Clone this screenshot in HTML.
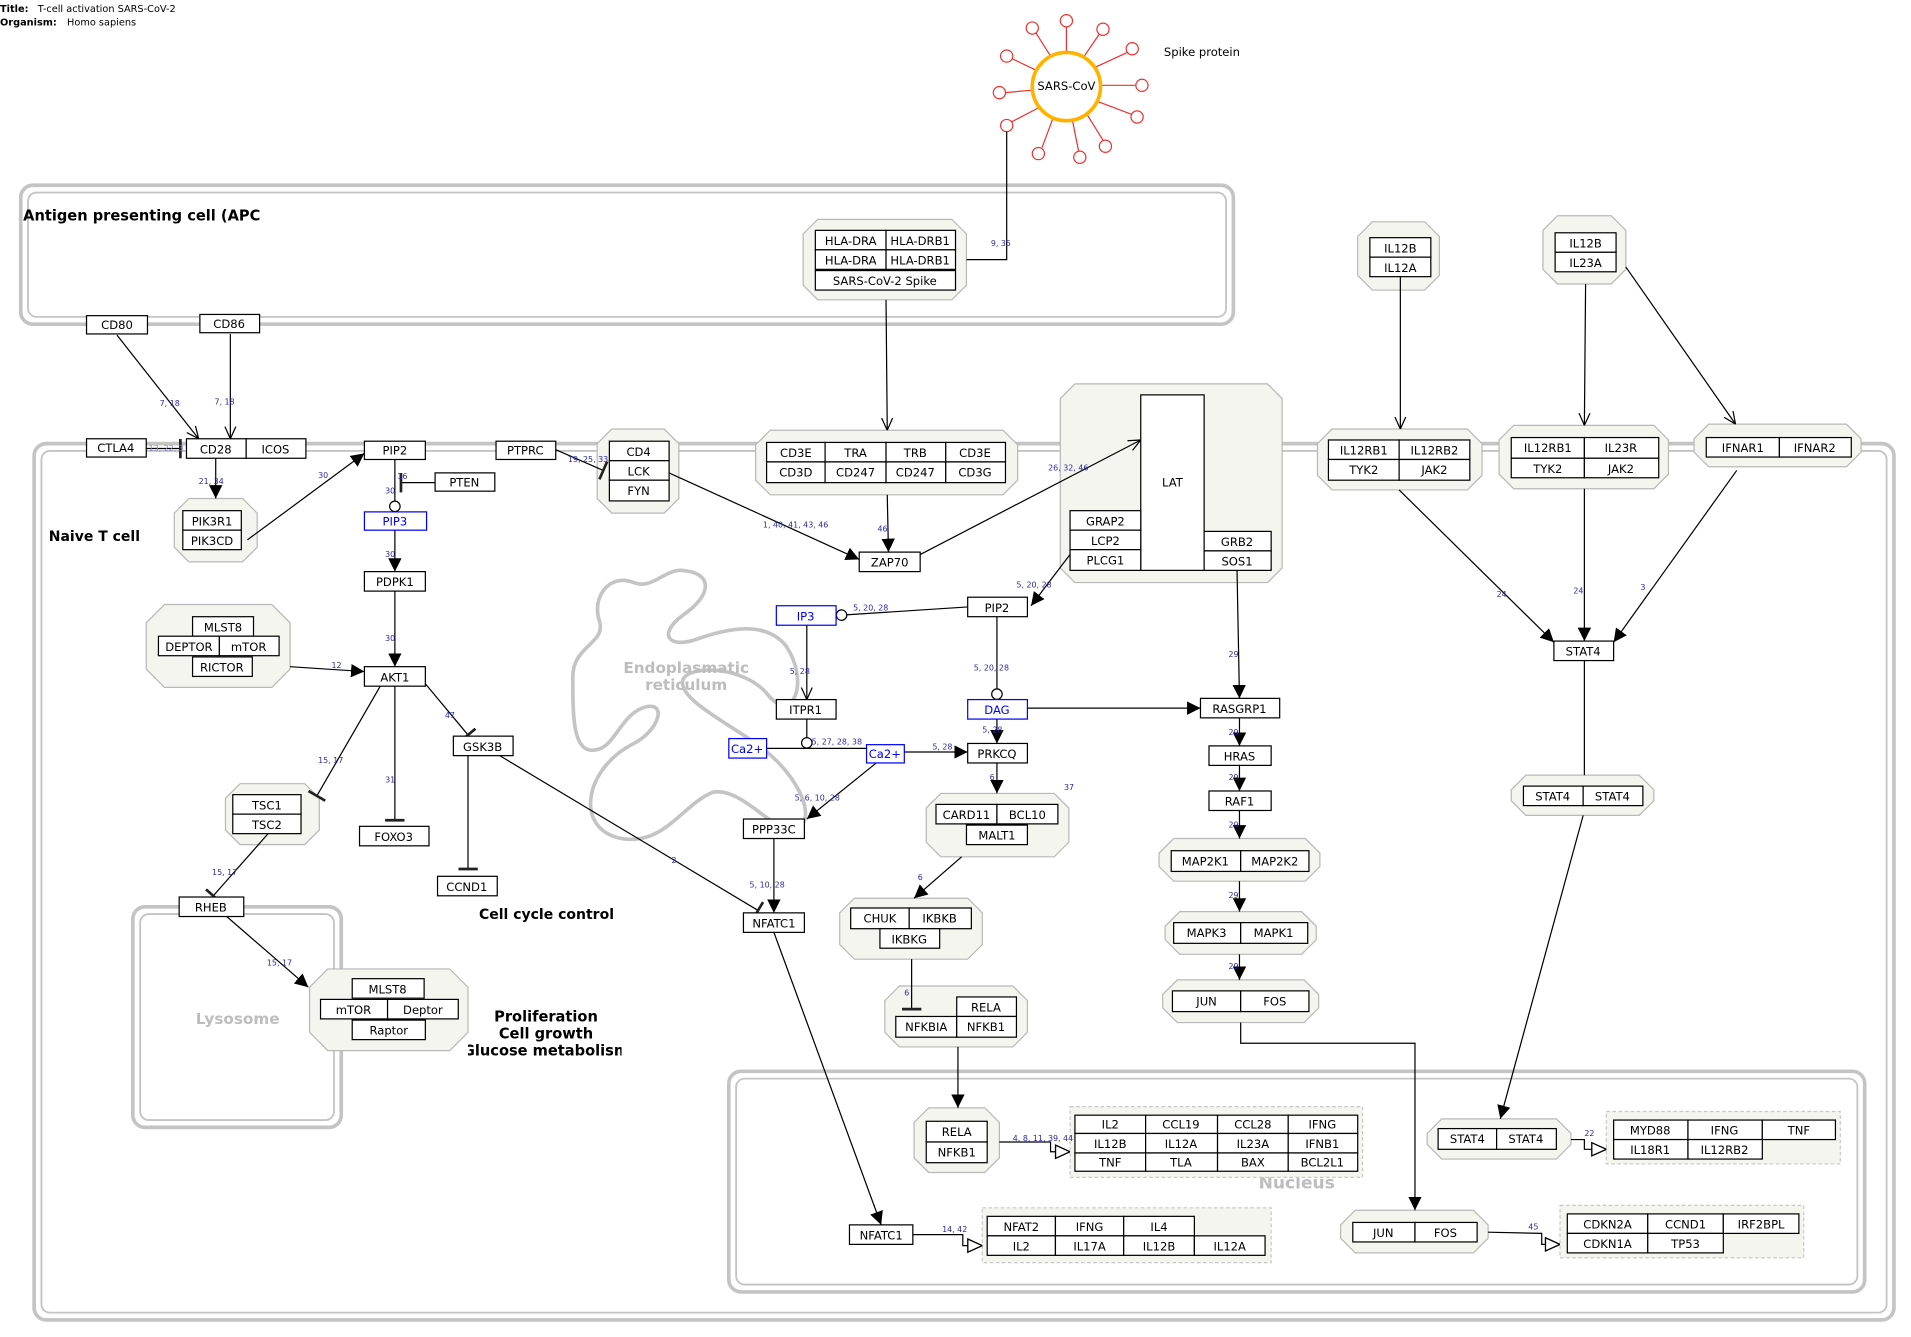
<!DOCTYPE html>
<html><head><meta charset="utf-8"><style>
html,body{margin:0;padding:0;background:#fff;}
svg{display:block;}
.n{fill:#fff;stroke:#000;stroke-width:1;}
.b{fill:#fff;stroke:#00f;stroke-width:1;}
.cx{fill:#f5f5ef;stroke:#b8b8b8;stroke-width:1;}
.cmp{fill:none;stroke:#c4c4c4;stroke-width:3;}
.cmpi{fill:none;stroke:#c4c4c4;stroke-width:1.5;}
text{font-family:"DejaVu Sans","Liberation Sans",sans-serif;}
.t{font-size:9.5px;text-anchor:middle;fill:#000;}
.tb{font-size:9.5px;text-anchor:middle;fill:#00f;}
.l{font-size:6.5px;fill:#2a2aa8;}
.e{stroke:#000;stroke-width:1;fill:none;}
.h{font-size:12px;font-weight:bold;fill:#000;}
.g{font-size:12.5px;font-weight:bold;fill:#bdbdbd;text-anchor:middle;}
.grp{fill:#f5f5ef;stroke:#c8c8c8;stroke-dasharray:3,2;}
</style></head><body>
<svg width="1911" height="1337" viewBox="0 0 1568 1097" preserveAspectRatio="none" xmlns="http://www.w3.org/2000/svg">
<defs>
<marker id="af" viewBox="0 0 10 10" refX="10" refY="5" markerWidth="11" markerHeight="11" markerUnits="userSpaceOnUse" orient="auto"><path d="M0,0 L10,5 L0,10 z" fill="#000"/></marker>
<marker id="ao" viewBox="0 0 10 10" refX="10" refY="5" markerWidth="10" markerHeight="10" markerUnits="userSpaceOnUse" orient="auto"><path d="M0,0.5 L10,5 L0,9.5" fill="none" stroke="#000" stroke-width="1"/></marker>
<marker id="tb" viewBox="0 0 4 16" refX="2" refY="8" markerWidth="4" markerHeight="16" markerUnits="userSpaceOnUse" orient="auto"><line x1="2" y1="0" x2="2" y2="16" stroke="#222" stroke-width="2.2"/></marker>
<marker id="ci" viewBox="0 0 10 10" refX="9.5" refY="5" markerWidth="10" markerHeight="10" markerUnits="userSpaceOnUse" orient="auto"><circle cx="5" cy="5" r="4.3" fill="#fff" stroke="#000" stroke-width="1"/></marker>
<marker id="tr" viewBox="0 0 12 12" refX="12" refY="6" markerWidth="13" markerHeight="13" markerUnits="userSpaceOnUse" orient="auto"><path d="M1,1 L12,6 L1,11 z" fill="#fff" stroke="#000" stroke-width="1"/></marker>
<clipPath id="clp"><rect x="384" y="820" width="126" height="60"/></clipPath>
</defs>

<text x="0" y="10" style="font-size:8px;font-weight:bold">Title:</text><text x="31" y="10" style="font-size:8px">T-cell activation SARS-CoV-2</text>
<text x="0" y="21" style="font-size:8px;font-weight:bold">Organism:</text><text x="55" y="21" style="font-size:8px">Homo sapiens</text>

<rect class="cmp" x="17" y="152" width="995" height="114" rx="10"/>
<rect class="cmpi" x="23" y="158" width="983" height="102" rx="7"/>
<rect class="cmp" x="28" y="364" width="1526" height="719" rx="10"/>
<rect class="cmpi" x="34" y="370" width="1514" height="707" rx="7"/>
<rect class="cmp" x="109" y="744" width="171" height="181" rx="10"/>
<rect class="cmpi" x="115" y="750" width="159" height="169" rx="7"/>
<rect class="cmp" x="598" y="879" width="932" height="181" rx="10"/>
<rect class="cmpi" x="604" y="885" width="920" height="169" rx="7"/>

<text class="h" x="19" y="181">Antigen presenting cell (APC</text>
<text class="h" x="40" y="444" style="font-size:11.5px">Naive T cell</text>
<text class="g" x="195" y="840">Lysosome</text>
<text class="g" x="1064" y="975" style="font-size:14px">Nucleus</text>
<text class="h" x="393" y="754" style="font-size:11.5px">Cell cycle control</text>
<g clip-path="url(#clp)">
<text class="h" x="448" y="838" text-anchor="middle" style="font-size:12px">Proliferation</text>
<text class="h" x="448" y="852" text-anchor="middle" style="font-size:12px">Cell growth</text>
<text class="h" x="448" y="866" text-anchor="middle" style="font-size:12px">Glucose metabolism</text>
</g>

<path d="M520,478 C500,470 485,490 492,510 C497,528 470,530 470,555 C470,590 470,620 490,615 C505,612 510,585 530,580 C548,576 540,600 520,610 C480,630 470,680 510,688 C545,694 560,660 585,650 C610,645 640,690 655,680 C672,668 650,630 620,610 C595,592 560,575 560,560 C560,545 610,545 630,570 C650,595 665,560 645,530 C625,505 585,520 570,525 C548,532 540,520 560,505 C585,488 585,470 560,468 C545,467 535,484 520,478 Z" fill="none" stroke="#c4c4c4" stroke-width="3"/>
<text class="g" x="563" y="552">Endoplasmatic</text>
<text class="g" x="563" y="566">reticulum</text>

<g stroke="#f03030" stroke-width="1" fill="#fff">
<line x1="875" y1="43" x2="875" y2="22"/><line x1="889" y1="47" x2="902" y2="28"/><line x1="899" y1="55" x2="925" y2="43"/>
<line x1="903" y1="70" x2="932" y2="70"/><line x1="900" y1="83" x2="929" y2="94"/><line x1="892" y1="94" x2="905" y2="115"/>
<line x1="880" y1="99" x2="885" y2="124"/><line x1="864" y1="97" x2="855" y2="121"/><line x1="853" y1="88" x2="830" y2="100"/>
<line x1="847" y1="74" x2="825" y2="76"/><line x1="851" y1="58" x2="830" y2="48"/><line x1="862" y1="46" x2="850" y2="27"/>
<circle cx="875" cy="17" r="5"/><circle cx="905" cy="24" r="5"/><circle cx="929" cy="40" r="5"/><circle cx="937" cy="70" r="5"/>
<circle cx="933" cy="96" r="5"/><circle cx="907" cy="120" r="5"/><circle cx="886" cy="129" r="5"/><circle cx="852" cy="126" r="5"/>
<circle cx="826" cy="103" r="5"/><circle cx="820" cy="76" r="5"/><circle cx="826" cy="46" r="5"/><circle cx="847" cy="23" r="5"/>
</g>
<circle cx="875" cy="71" r="28" fill="#fff" stroke="#ffb300" stroke-width="3"/>
<text class="t" x="875" y="74">SARS-CoV</text>
<text x="955" y="46" style="font-size:9.5px">Spike protein</text>

<polygon class="cx" points="155,409 199,409 211,421 211,449 199,461 155,461 143,449 143,421"/>
<polygon class="cx" points="135,496 223,496 238,511 238,549 223,564 135,564 120,549 120,511"/>
<polygon class="cx" points="197,643 250,643 262,655 262,681 250,693 197,693 185,681 185,655"/>
<polygon class="cx" points="269,795 369,795 384,810 384,847 369,862 269,862 254,847 254,810"/>
<polygon class="cx" points="502,352 545,352 557,364 557,409 545,421 502,421 490,409 490,364"/>
<polygon class="cx" points="671,180 781,180 793,192 793,234 781,246 671,246 659,234 659,192"/>
<polygon class="cx" points="632,353 823,353 835,365 835,394 823,406 632,406 620,394 620,365"/>
<polygon class="cx" points="882,315 1040,315 1052,327 1052,466 1040,478 882,478 870,466 870,327"/>
<polygon class="cx" points="772,651 865,651 877,663 877,691 865,703 772,703 760,691 760,663"/>
<polygon class="cx" points="701,737 794,737 806,749 806,775 794,787 701,787 689,775 689,749"/>
<polygon class="cx" points="738,809 831,809 843,821 843,847 831,859 738,859 726,847 726,821"/>
<polygon class="cx" points="963,688 1071,688 1083,700 1083,711 1071,723 963,723 951,711 951,700"/>
<polygon class="cx" points="968,748 1068,748 1080,760 1080,771 1068,783 968,783 956,771 956,760"/>
<polygon class="cx" points="966,804 1070,804 1082,816 1082,827 1070,839 966,839 954,827 954,816"/>
<polygon class="cx" points="1126,182 1169,182 1181,194 1181,226 1169,238 1126,238 1114,226 1114,194"/>
<polygon class="cx" points="1278,177 1322,177 1334,189 1334,221 1322,233 1278,233 1266,221 1266,189"/>
<polygon class="cx" points="1093,352 1204,352 1216,364 1216,390 1204,402 1093,402 1081,390 1081,364"/>
<polygon class="cx" points="1242,349 1357,349 1369,361 1369,389 1357,401 1242,401 1230,389 1230,361"/>
<polygon class="cx" points="1402,348 1515,348 1527,360 1527,371 1515,383 1402,383 1390,371 1390,360"/>
<polygon class="cx" points="1252,636 1345,636 1357,648 1357,657 1345,669 1252,669 1240,657 1240,648"/>
<polygon class="cx" points="762,909 808,909 820,921 820,950 808,962 762,962 750,950 750,921"/>
<polygon class="cx" points="1183,918 1277,918 1289,930 1289,939 1277,951 1183,951 1171,939 1171,930"/>
<polygon class="cx" points="1112,993 1209,993 1221,1005 1221,1016 1209,1028 1112,1028 1100,1016 1100,1005"/>

<rect class="grp" x="878" y="908" width="240" height="58"/>
<rect class="grp" x="806" y="991" width="237" height="45"/>
<rect class="grp" x="1318" y="912" width="192" height="43"/>
<rect class="grp" x="1280" y="989" width="200" height="43"/>

<g class="e">
<line x1="96" y1="275" x2="163" y2="360" marker-end="url(#ao)"/>
<line x1="189" y1="274" x2="189" y2="360" marker-end="url(#ao)"/>
<line x1="120" y1="368" x2="148" y2="368" marker-end="url(#tb)"/>
<line x1="177" y1="376" x2="177" y2="409" marker-end="url(#af)"/>
<line x1="203" y1="443" x2="299" y2="372" marker-end="url(#af)"/>
<line x1="324" y1="377" x2="324" y2="420" marker-end="url(#ci)"/>
<line x1="357" y1="396" x2="329" y2="396" marker-end="url(#tb)"/>
<line x1="324" y1="435" x2="324" y2="469" marker-end="url(#af)"/>
<line x1="324" y1="485" x2="324" y2="547" marker-end="url(#af)"/>
<line x1="238" y1="547" x2="299" y2="551" marker-end="url(#af)"/>
<line x1="312" y1="563" x2="260" y2="653" marker-end="url(#tb)"/>
<line x1="324" y1="563" x2="324" y2="673" marker-end="url(#tb)"/>
<line x1="349" y1="561" x2="384" y2="603" marker-end="url(#tb)"/>
<line x1="384" y1="620" x2="384" y2="713" marker-end="url(#tb)"/>
<line x1="410" y1="620" x2="622" y2="747" marker-end="url(#tb)"/>
<line x1="220" y1="684" x2="175" y2="735" marker-end="url(#tb)"/>
<line x1="186" y1="752" x2="253" y2="810" marker-end="url(#af)"/>
<line x1="456" y1="369" x2="495" y2="386" marker-end="url(#tb)"/>
<line x1="549" y1="388" x2="705" y2="459" marker-end="url(#af)"/>
<line x1="728" y1="406" x2="729" y2="453" marker-end="url(#af)"/>
<line x1="727" y1="246" x2="728" y2="353" marker-end="url(#ao)"/>
<path d="M826,108 L826,213 L793,213"/>
<line x1="755" y1="455" x2="936" y2="361" marker-end="url(#ao)"/>
<line x1="878" y1="455" x2="846" y2="497" marker-end="url(#af)"/>
<line x1="794" y1="498" x2="686" y2="505" marker-end="url(#ci)"/>
<line x1="818" y1="506" x2="818" y2="574" marker-end="url(#ci)"/>
<line x1="662" y1="513" x2="662" y2="574" marker-end="url(#ao)"/>
<line x1="662" y1="590" x2="662" y2="614" marker-end="url(#ci)"/>
<line x1="629" y1="614" x2="711" y2="614"/>
<line x1="742" y1="617" x2="794" y2="617" marker-end="url(#af)"/>
<line x1="818" y1="590" x2="818" y2="610" marker-end="url(#af)"/>
<line x1="843" y1="581" x2="985" y2="581" marker-end="url(#af)"/>
<line x1="719" y1="626" x2="662" y2="672" marker-end="url(#af)"/>
<line x1="635" y1="688" x2="635" y2="749" marker-end="url(#af)"/>
<line x1="818" y1="626" x2="818" y2="651" marker-end="url(#af)"/>
<line x1="789" y1="703" x2="750" y2="737" marker-end="url(#af)"/>
<line x1="748" y1="787" x2="748" y2="828" marker-end="url(#tb)"/>
<line x1="786" y1="859" x2="786" y2="909" marker-end="url(#af)"/>
<line x1="635" y1="765" x2="723" y2="1005" marker-end="url(#af)"/>
<line x1="1015" y1="468" x2="1017" y2="573" marker-end="url(#af)"/>
<line x1="1017" y1="589" x2="1017" y2="612" marker-end="url(#af)"/>
<line x1="1017" y1="628" x2="1017" y2="649" marker-end="url(#af)"/>
<line x1="1017" y1="665" x2="1017" y2="688" marker-end="url(#af)"/>
<line x1="1017" y1="723" x2="1017" y2="748" marker-end="url(#af)"/>
<line x1="1017" y1="783" x2="1017" y2="804" marker-end="url(#af)"/>
<path d="M1018,839 L1018,856 L1161,856 L1161,993" marker-end="url(#af)"/>
<line x1="1149" y1="227" x2="1149" y2="352" marker-end="url(#ao)"/>
<line x1="1301" y1="233" x2="1300" y2="349" marker-end="url(#ao)"/>
<line x1="1334" y1="219" x2="1424" y2="348" marker-end="url(#ao)"/>
<line x1="1148" y1="402" x2="1275" y2="527" marker-end="url(#af)"/>
<line x1="1300" y1="401" x2="1300" y2="526" marker-end="url(#af)"/>
<line x1="1425" y1="386" x2="1324" y2="527" marker-end="url(#af)"/>
<line x1="1300" y1="542" x2="1300" y2="636"/>
<line x1="1299" y1="669" x2="1231" y2="918" marker-end="url(#af)"/>
<path d="M820,937 L862,937 L862,945 L878,945" marker-end="url(#tr)"/>
<path d="M749,1013 L790,1013 L790,1022 L806,1022" marker-end="url(#tr)"/>
<path d="M1289,935 L1300,935 L1300,943 L1318,943" marker-end="url(#tr)"/>
<path d="M1221,1011 L1265,1012 L1265,1021 L1280,1021" marker-end="url(#tr)"/>
</g>

<g class="l">
<text x="131" y="333">7, 18</text><text x="176" y="332">7, 18</text>
<text x="122" y="370" fill="#8888c8">13, 22, 3</text>
<text x="163" y="397">21, 34</text><text x="261" y="392">30</text>
<text x="326" y="393">16</text><text x="316" y="405">30</text><text x="316" y="457">30</text>
<text x="316" y="526">30</text><text x="272" y="548">12</text><text x="261" y="626">15, 17</text>
<text x="316" y="642">31</text><text x="365" y="589">47</text><text x="551" y="708">2</text>
<text x="174" y="718">15, 17</text><text x="219" y="792">15, 17</text>
<text x="466" y="379">19, 25, 33</text><text x="626" y="433">1, 40, 41, 43, 46</text>
<text x="720" y="436">46</text><text x="813" y="202">9, 35</text><text x="860" y="386">26, 32, 46</text>
<text x="834" y="482">5, 20, 28</text><text x="700" y="501">5, 20, 28</text><text x="799" y="550">5, 20, 28</text>
<text x="648" y="553">5, 28</text><text x="666" y="611">5, 27, 28, 38</text><text x="765" y="615">5, 28</text>
<text x="806" y="601">5, 28</text><text x="652" y="657">5, 6, 10, 28</text><text x="615" y="728">5, 10, 28</text>
<text x="812" y="640">6</text><text x="873" y="648">37</text><text x="753" y="722">6</text><text x="742" y="817">6</text>
<text x="1008" y="539">29</text><text x="1008" y="603">29</text><text x="1008" y="640">29</text><text x="1008" y="679">29</text>
<text x="1008" y="737">29</text><text x="1008" y="795">29</text>
<text x="1228" y="490">24</text><text x="1291" y="487">24</text><text x="1346" y="484">3</text>
<text x="831" y="936">4, 8, 11, 39, 44</text><text x="773" y="1011">14, 42</text><text x="1300" y="932">22</text><text x="1254" y="1009">45</text>
</g>

<g>
<rect class="n" x="71" y="259" width="50" height="15"/><text class="t" x="96" y="270">CD80</text>
<rect class="n" x="164" y="258" width="49" height="15"/><text class="t" x="188" y="269">CD86</text>
<rect class="n" x="71" y="360" width="49" height="15"/><text class="t" x="95" y="371">CTLA4</text>
<rect class="n" x="153" y="360" width="49" height="16"/><text class="t" x="177" y="372">CD28</text>
<rect class="n" x="202" y="360" width="49" height="16"/><text class="t" x="226" y="372">ICOS</text>
<rect class="n" x="299" y="362" width="50" height="15"/><text class="t" x="324" y="373">PIP2</text>
<rect class="n" x="407" y="362" width="49" height="15"/><text class="t" x="431" y="373">PTPRC</text>
<rect class="n" x="357" y="388" width="49" height="15"/><text class="t" x="381" y="399">PTEN</text>
<rect class="b" x="299" y="420" width="51" height="15"/><text class="tb" x="324" y="431">PIP3</text>
<rect class="n" x="299" y="469" width="50" height="16"/><text class="t" x="324" y="481">PDPK1</text>
<rect class="n" x="299" y="547" width="50" height="16"/><text class="t" x="324" y="559">AKT1</text>
<rect class="n" x="150" y="419" width="48" height="16"/><text class="t" x="174" y="431">PIK3R1</text>
<rect class="n" x="150" y="435" width="48" height="16"/><text class="t" x="174" y="447">PIK3CD</text>
<rect class="n" x="158" y="506" width="50" height="16"/><text class="t" x="183" y="518">MLST8</text>
<rect class="n" x="130" y="522" width="50" height="16"/><text class="t" x="155" y="534">DEPTOR</text>
<rect class="n" x="180" y="522" width="49" height="16"/><text class="t" x="204" y="534">mTOR</text>
<rect class="n" x="158" y="539" width="49" height="16"/><text class="t" x="182" y="551">RICTOR</text>
<rect class="n" x="191" y="652" width="56" height="16"/><text class="t" x="219" y="664">TSC1</text>
<rect class="n" x="191" y="668" width="56" height="16"/><text class="t" x="219" y="680">TSC2</text>
<rect class="n" x="295" y="678" width="57" height="16"/><text class="t" x="323" y="690">FOXO3</text>
<rect class="n" x="372" y="604" width="49" height="16"/><text class="t" x="396" y="616">GSK3B</text>
<rect class="n" x="359" y="719" width="49" height="16"/><text class="t" x="383" y="731">CCND1</text>
<rect class="n" x="147" y="736" width="53" height="16"/><text class="t" x="173" y="748">RHEB</text>
<rect class="n" x="289" y="803" width="59" height="16"/><text class="t" x="318" y="815">MLST8</text>
<rect class="n" x="263" y="820" width="55" height="16"/><text class="t" x="290" y="832">mTOR</text>
<rect class="n" x="318" y="820" width="58" height="16"/><text class="t" x="347" y="832">Deptor</text>
<rect class="n" x="289" y="837" width="60" height="16"/><text class="t" x="319" y="849">Raptor</text>
<rect class="n" x="500" y="362" width="49" height="16"/><text class="t" x="524" y="374">CD4</text>
<rect class="n" x="500" y="378" width="49" height="16"/><text class="t" x="524" y="390">LCK</text>
<rect class="n" x="500" y="394" width="49" height="17"/><text class="t" x="524" y="406">FYN</text>
<rect class="n" x="669" y="189" width="58" height="16"/><text class="t" x="698" y="201">HLA-DRA</text>
<rect class="n" x="727" y="189" width="57" height="16"/><text class="t" x="755" y="201">HLA-DRB1</text>
<rect class="n" x="669" y="205" width="58" height="16"/><text class="t" x="698" y="217">HLA-DRA</text>
<rect class="n" x="727" y="205" width="57" height="16"/><text class="t" x="755" y="217">HLA-DRB1</text>
<rect class="n" x="669" y="222" width="115" height="16"/><text class="t" x="726" y="234">SARS-CoV-2 Spike</text>
<rect class="n" x="629" y="363" width="48" height="16"/><text class="t" x="653" y="375">CD3E</text>
<rect class="n" x="677" y="363" width="50" height="16"/><text class="t" x="702" y="375">TRA</text>
<rect class="n" x="727" y="363" width="49" height="16"/><text class="t" x="751" y="375">TRB</text>
<rect class="n" x="776" y="363" width="49" height="16"/><text class="t" x="800" y="375">CD3E</text>
<rect class="n" x="629" y="379" width="48" height="17"/><text class="t" x="653" y="391">CD3D</text>
<rect class="n" x="677" y="379" width="50" height="17"/><text class="t" x="702" y="391">CD247</text>
<rect class="n" x="727" y="379" width="49" height="17"/><text class="t" x="751" y="391">CD247</text>
<rect class="n" x="776" y="379" width="49" height="17"/><text class="t" x="800" y="391">CD3G</text>
<rect class="n" x="705" y="453" width="50" height="16"/><text class="t" x="730" y="465">ZAP70</text>
<rect class="n" x="936" y="324" width="52" height="144"/><text class="t" x="962" y="399">LAT</text>
<rect class="n" x="878" y="419" width="58" height="16"/><text class="t" x="907" y="431">GRAP2</text>
<rect class="n" x="878" y="435" width="58" height="16"/><text class="t" x="907" y="447">LCP2</text>
<rect class="n" x="878" y="451" width="58" height="17"/><text class="t" x="907" y="463">PLCG1</text>
<rect class="n" x="988" y="436" width="55" height="16"/><text class="t" x="1015" y="448">GRB2</text>
<rect class="n" x="988" y="452" width="55" height="16"/><text class="t" x="1015" y="464">SOS1</text>
<rect class="n" x="794" y="490" width="49" height="16"/><text class="t" x="818" y="502">PIP2</text>
<rect class="b" x="637" y="497" width="49" height="16"/><text class="tb" x="661" y="509">IP3</text>
<rect class="n" x="637" y="574" width="49" height="16"/><text class="t" x="661" y="586">ITPR1</text>
<rect class="b" x="794" y="574" width="49" height="16"/><text class="tb" x="818" y="586">DAG</text>
<rect class="b" x="598" y="606" width="31" height="16"/><text class="tb" x="613" y="618">Ca2+</text>
<rect class="b" x="711" y="611" width="31" height="15"/><text class="tb" x="726" y="622">Ca2+</text>
<rect class="n" x="794" y="610" width="49" height="16"/><text class="t" x="818" y="622">PRKCQ</text>
<rect class="n" x="610" y="672" width="50" height="16"/><text class="t" x="635" y="684">PPP33C</text>
<rect class="n" x="610" y="749" width="50" height="16"/><text class="t" x="635" y="761">NFATC1</text>
<rect class="n" x="768" y="660" width="50" height="16"/><text class="t" x="793" y="672">CARD11</text>
<rect class="n" x="818" y="660" width="50" height="16"/><text class="t" x="843" y="672">BCL10</text>
<rect class="n" x="793" y="677" width="50" height="16"/><text class="t" x="818" y="689">MALT1</text>
<rect class="n" x="698" y="745" width="48" height="17"/><text class="t" x="722" y="757">CHUK</text>
<rect class="n" x="746" y="745" width="51" height="17"/><text class="t" x="771" y="757">IKBKB</text>
<rect class="n" x="722" y="762" width="49" height="16"/><text class="t" x="746" y="774">IKBKG</text>
<rect class="n" x="785" y="818" width="49" height="16"/><text class="t" x="809" y="830">RELA</text>
<rect class="n" x="735" y="834" width="50" height="17"/><text class="t" x="760" y="846">NFKBIA</text>
<rect class="n" x="785" y="834" width="49" height="17"/><text class="t" x="809" y="846">NFKB1</text>
<rect class="n" x="985" y="573" width="65" height="16"/><text class="t" x="1017" y="585">RASGRP1</text>
<rect class="n" x="992" y="612" width="51" height="16"/><text class="t" x="1017" y="624">HRAS</text>
<rect class="n" x="992" y="649" width="51" height="16"/><text class="t" x="1017" y="661">RAF1</text>
<rect class="n" x="961" y="698" width="57" height="17"/><text class="t" x="989" y="710">MAP2K1</text>
<rect class="n" x="1018" y="698" width="56" height="17"/><text class="t" x="1046" y="710">MAP2K2</text>
<rect class="n" x="963" y="757" width="55" height="17"/><text class="t" x="990" y="769">MAPK3</text>
<rect class="n" x="1018" y="757" width="55" height="17"/><text class="t" x="1045" y="769">MAPK1</text>
<rect class="n" x="962" y="813" width="56" height="17"/><text class="t" x="990" y="825">JUN</text>
<rect class="n" x="1018" y="813" width="56" height="17"/><text class="t" x="1046" y="825">FOS</text>
<rect class="n" x="1124" y="195" width="50" height="16"/><text class="t" x="1149" y="207">IL12B</text>
<rect class="n" x="1124" y="211" width="50" height="16"/><text class="t" x="1149" y="223">IL12A</text>
<rect class="n" x="1276" y="191" width="50" height="16"/><text class="t" x="1301" y="203">IL12B</text>
<rect class="n" x="1276" y="207" width="50" height="16"/><text class="t" x="1301" y="219">IL23A</text>
<rect class="n" x="1090" y="361" width="58" height="16"/><text class="t" x="1119" y="373">IL12RB1</text>
<rect class="n" x="1148" y="361" width="58" height="16"/><text class="t" x="1177" y="373">IL12RB2</text>
<rect class="n" x="1090" y="377" width="58" height="17"/><text class="t" x="1119" y="389">TYK2</text>
<rect class="n" x="1148" y="377" width="58" height="17"/><text class="t" x="1177" y="389">JAK2</text>
<rect class="n" x="1240" y="359" width="60" height="17"/><text class="t" x="1270" y="371">IL12RB1</text>
<rect class="n" x="1300" y="359" width="61" height="17"/><text class="t" x="1330" y="371">IL23R</text>
<rect class="n" x="1240" y="376" width="60" height="16"/><text class="t" x="1270" y="388">TYK2</text>
<rect class="n" x="1300" y="376" width="61" height="16"/><text class="t" x="1330" y="388">JAK2</text>
<rect class="n" x="1400" y="359" width="60" height="16"/><text class="t" x="1430" y="371">IFNAR1</text>
<rect class="n" x="1460" y="359" width="59" height="16"/><text class="t" x="1489" y="371">IFNAR2</text>
<rect class="n" x="1275" y="526" width="49" height="16"/><text class="t" x="1299" y="538">STAT4</text>
<rect class="n" x="1250" y="645" width="49" height="16"/><text class="t" x="1274" y="657">STAT4</text>
<rect class="n" x="1299" y="645" width="49" height="16"/><text class="t" x="1323" y="657">STAT4</text>
<rect class="n" x="760" y="920" width="50" height="17"/><text class="t" x="785" y="932">RELA</text>
<rect class="n" x="760" y="937" width="50" height="17"/><text class="t" x="785" y="949">NFKB1</text>
<rect class="n" x="882" y="915" width="58" height="15"/><text class="t" x="911" y="926">IL2</text>
<rect class="n" x="940" y="915" width="59" height="15"/><text class="t" x="969" y="926">CCL19</text>
<rect class="n" x="999" y="915" width="58" height="15"/><text class="t" x="1028" y="926">CCL28</text>
<rect class="n" x="1057" y="915" width="57" height="15"/><text class="t" x="1085" y="926">IFNG</text>
<rect class="n" x="882" y="930" width="58" height="16"/><text class="t" x="911" y="942">IL12B</text>
<rect class="n" x="940" y="930" width="59" height="16"/><text class="t" x="969" y="942">IL12A</text>
<rect class="n" x="999" y="930" width="58" height="16"/><text class="t" x="1028" y="942">IL23A</text>
<rect class="n" x="1057" y="930" width="57" height="16"/><text class="t" x="1085" y="942">IFNB1</text>
<rect class="n" x="882" y="946" width="58" height="15"/><text class="t" x="911" y="957">TNF</text>
<rect class="n" x="940" y="946" width="59" height="15"/><text class="t" x="969" y="957">TLA</text>
<rect class="n" x="999" y="946" width="58" height="15"/><text class="t" x="1028" y="957">BAX</text>
<rect class="n" x="1057" y="946" width="57" height="15"/><text class="t" x="1085" y="957">BCL2L1</text>
<rect class="n" x="697" y="1005" width="52" height="16"/><text class="t" x="723" y="1017">NFATC1</text>
<rect class="n" x="810" y="998" width="56" height="16"/><text class="t" x="838" y="1010">NFAT2</text>
<rect class="n" x="866" y="998" width="56" height="16"/><text class="t" x="894" y="1010">IFNG</text>
<rect class="n" x="922" y="998" width="58" height="16"/><text class="t" x="951" y="1010">IL4</text>
<rect class="n" x="810" y="1014" width="56" height="16"/><text class="t" x="838" y="1026">IL2</text>
<rect class="n" x="866" y="1014" width="56" height="16"/><text class="t" x="894" y="1026">IL17A</text>
<rect class="n" x="922" y="1014" width="58" height="16"/><text class="t" x="951" y="1026">IL12B</text>
<rect class="n" x="980" y="1014" width="58" height="16"/><text class="t" x="1009" y="1026">IL12A</text>
<rect class="n" x="1180" y="926" width="48" height="17"/><text class="t" x="1204" y="938">STAT4</text>
<rect class="n" x="1228" y="926" width="49" height="17"/><text class="t" x="1252" y="938">STAT4</text>
<rect class="n" x="1324" y="919" width="61" height="16"/><text class="t" x="1354" y="931">MYD88</text>
<rect class="n" x="1385" y="919" width="61" height="16"/><text class="t" x="1415" y="931">IFNG</text>
<rect class="n" x="1446" y="919" width="60" height="16"/><text class="t" x="1476" y="931">TNF</text>
<rect class="n" x="1324" y="935" width="61" height="16"/><text class="t" x="1354" y="947">IL18R1</text>
<rect class="n" x="1385" y="935" width="61" height="16"/><text class="t" x="1415" y="947">IL12RB2</text>
<rect class="n" x="1110" y="1003" width="51" height="16"/><text class="t" x="1135" y="1015">JUN</text>
<rect class="n" x="1161" y="1003" width="51" height="16"/><text class="t" x="1186" y="1015">FOS</text>
<rect class="n" x="1286" y="996" width="66" height="16"/><text class="t" x="1319" y="1008">CDKN2A</text>
<rect class="n" x="1352" y="996" width="62" height="16"/><text class="t" x="1383" y="1008">CCND1</text>
<rect class="n" x="1414" y="996" width="62" height="16"/><text class="t" x="1445" y="1008">IRF2BPL</text>
<rect class="n" x="1286" y="1012" width="66" height="16"/><text class="t" x="1319" y="1024">CDKN1A</text>
<rect class="n" x="1352" y="1012" width="62" height="16"/><text class="t" x="1383" y="1024">TP53</text>
</g>
</svg>
</body></html>
